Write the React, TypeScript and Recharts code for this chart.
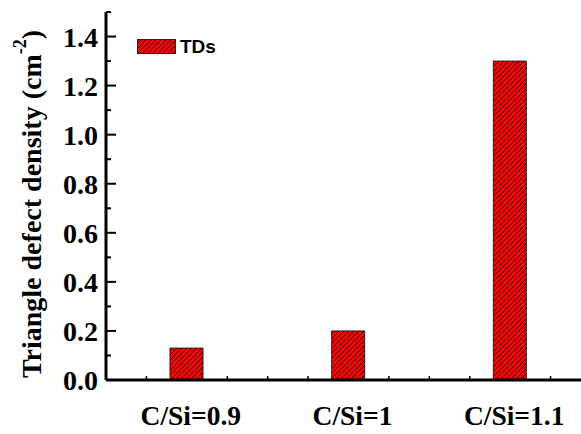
import React from 'react'
import { BarChart, Bar, XAxis, YAxis, Legend } from 'recharts'

const categories = ['C/Si=0.9', 'C/Si=1', 'C/Si=1.1']
const positions = [1, 2, 3]
const tdValues = [0.13, 0.2, 1.3]
const yTicks = [0, 0.1, 0.2, 0.3, 0.4, 0.5, 0.6, 0.7, 0.8, 0.9, 1.0, 1.1, 1.2, 1.3, 1.4, 1.5]
const xTicks = [0.5, 0.75, 1, 1.25, 1.5, 1.75, 2, 2.25, 2.5, 2.75, 3, 3.25, 3.5]
const topTicks = [0.8, 1.1, 1.4, 1.7, 2.0, 2.3, 2.6, 2.9, 3.2, 3.5]

const serif = "'Liberation Serif', 'Times New Roman', serif"
const sans = "'Liberation Sans', Arial, sans-serif"

const data = positions.map((p, i) => ({ x: p, name: categories[i], td: tdValues[i] }))

function YTick(props: any) {
  const { x, y, payload } = props
  const v = payload.value
  const major = Math.abs(v * 5 - Math.round(v * 5)) < 1e-6
  return (
    <g>
      <line x1={x} x2={x + (major ? 10 : 5)} y1={y} y2={y} stroke="#000" strokeWidth={2} />
      {major && v < 1.45 && (
        <text x={x - 8} y={y} dy="0.36em" textAnchor="end" style={{ fontFamily: serif, fontWeight: 'bold', fontSize: 28 }} fill="#000">
          {v.toFixed(1)}
        </text>
      )}
    </g>
  )
}

function XTick(props: any) {
  const { x, y, payload } = props
  const v = payload.value
  const idx = positions.indexOf(v)
  if (idx >= 0) {
    return (
      <text x={x + 4} y={y + 45} textAnchor="middle" style={{ fontFamily: serif, fontWeight: 'bold', fontSize: 27.5 }} fill="#000">
        {categories[idx]}
      </text>
    )
  }
  return <line x1={x} x2={x} y1={y} y2={y - 4} stroke="#000" strokeWidth={1.5} />
}

function TopTick(props: any) {
  const { x, y } = props
  return <line x1={x} x2={x} y1={y} y2={y + 3} stroke="#999" strokeWidth={1} />
}

function YLabel(props: any) {
  const vb = props.viewBox || { x: 0, y: 12, width: 106, height: 368 }
  const cx = 31
  const cy = vb.y + vb.height / 2 + 8
  return (
    <text
      x={cx}
      y={cy}
      transform={`rotate(-90, ${cx}, ${cy})`}
      textAnchor="middle"
      dominantBaseline="central"
      style={{ fontFamily: serif, fontWeight: 'bold', fontSize: 28 }}
      fill="#000"
    >
      Triangle defect density (cm
      <tspan style={{ fontSize: 18 }} dy={-11}>-2</tspan>
      <tspan dy={11}>)</tspan>
    </text>
  )
}

function HatchLegend() {
  return (
    <div style={{ display: 'flex', alignItems: 'center' }}>
      <svg width={39} height={15}>
        <defs>
          <pattern id="hatchLegend" patternUnits="userSpaceOnUse" width={5} height={5}>
            <rect width={5} height={5} fill="#ff0000" />
            <path d="M-1,1 l2,-2 M0,5 l5,-5 M4,6 l2,-2" stroke="#000" strokeWidth={0.9} />
          </pattern>
        </defs>
        <rect x={0.5} y={0.5} width={38} height={14} fill="url(#hatchLegend)" stroke="#222" strokeWidth={1} />
      </svg>
      <span style={{ marginLeft: 4, fontFamily: sans, fontWeight: 'bold', fontSize: 19, lineHeight: '15px' }}>TDs</span>
    </div>
  )
}

export default function App() {
  return (
    <div style={{ position: 'absolute', left: 0, top: 0, width: 581, height: 434, overflow: 'hidden', background: '#fff' }}>
      <BarChart width={600} height={434} data={data} margin={{ top: 12, right: 9, bottom: 0, left: 0 }}>
        <defs>
          <pattern id="hatch" patternUnits="userSpaceOnUse" width={5} height={5}>
            <rect width={5} height={5} fill="#ff0000" />
            <path d="M-1,1 l2,-2 M0,5 l5,-5 M4,6 l2,-2" stroke="#000" strokeWidth={0.9} />
          </pattern>
        </defs>
        <XAxis
          xAxisId="main"
          dataKey="x"
          type="number"
          domain={[0.5, 3.5]}
          ticks={xTicks}
          interval={0}
          height={54}
          tickSize={0}
          tickMargin={0}
          tickLine={false}
          tick={<XTick />}
          axisLine={{ stroke: '#000', strokeWidth: 3 }}
        />
        <XAxis
          xAxisId="top"
          orientation="top"
          type="number"
          domain={[0.5, 3.5]}
          ticks={topTicks}
          interval={0}
          height={0}
          tickSize={0}
          tickMargin={0}
          tickLine={false}
          tick={<TopTick />}
          axisLine={{ stroke: '#000', strokeWidth: 3 }}
        />
        <YAxis
          type="number"
          domain={[0, 1.5]}
          ticks={yTicks}
          interval={0}
          width={106}
          tickSize={0}
          tickMargin={0}
          tickLine={false}
          tick={<YTick />}
          axisLine={{ stroke: '#000', strokeWidth: 3 }}
          label={<YLabel />}
        />
        <Legend
          layout="vertical"
          align="center"
          verticalAlign="middle"
          content={<HatchLegend />}
          wrapperStyle={{ left: 137, top: 39, width: 'auto', height: 'auto' }}
        />
        <Bar
          xAxisId="main"
          dataKey="td"
          name="TDs"
          barSize={33}
          fill="url(#hatch)"
          stroke="#222"
          strokeWidth={1}
          isAnimationActive={false}
        />
      </BarChart>
    </div>
  )
}
